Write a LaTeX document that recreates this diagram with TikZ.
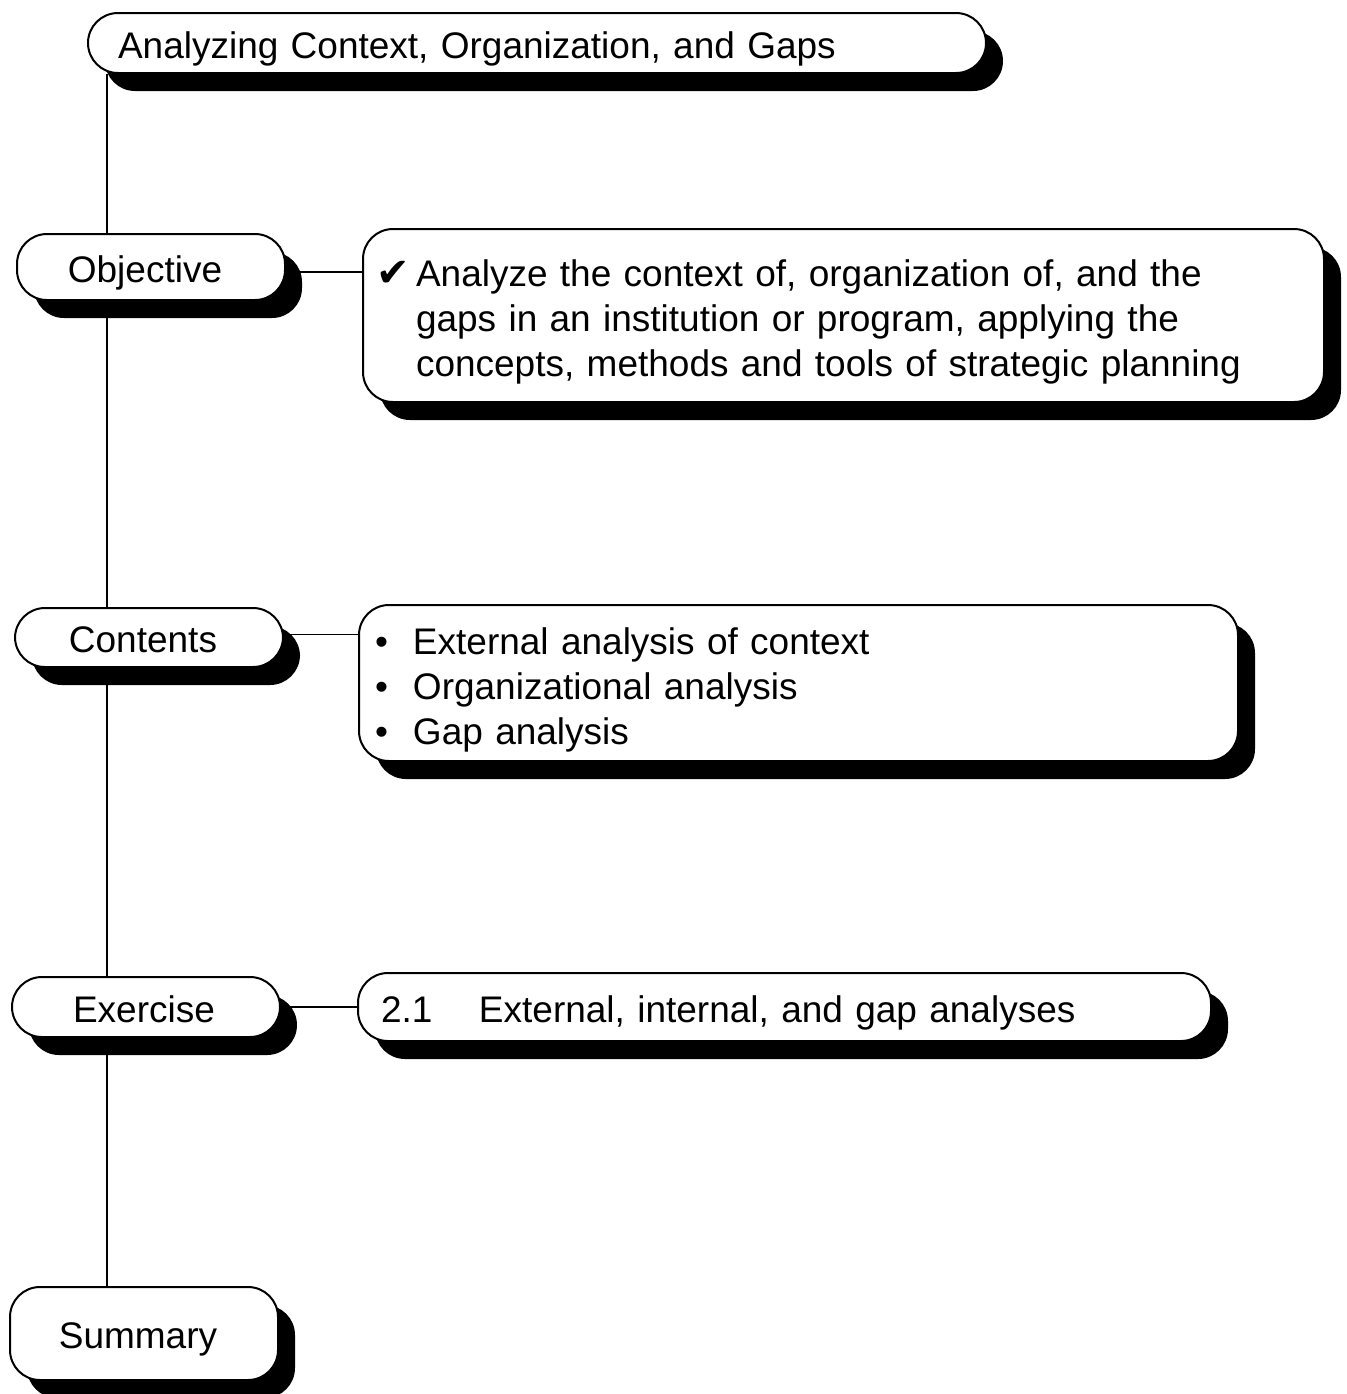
\documentclass[tikz,border=0pt]{standalone}
\usepackage{fontspec}
\setmainfont{Liberation Sans}
\newfontfamily\symfont{DejaVu Sans}
\usetikzlibrary{shadows,backgrounds}

\begin{document}
\begin{tikzpicture}[x=0.5pt,y=-0.5pt,
  box/.style={draw=black, line width=1pt, fill=white, rounded corners=15pt,
    drop shadow={shadow xshift=8.5pt, shadow yshift=-9pt, fill=black, opacity=1},
    font=\fontsize{18.5}{22.5}\selectfont, inner sep=0pt},
  oneline/.style={text height=15.2pt, text depth=0pt},
  tab/.style={box, oneline, minimum width=134pt, align=center},
  panel/.style={box, anchor=north west, align=left},
  link/.style={line width=0.8pt}]

\useasboundingbox (0,0) rectangle (1346,1394);

% heading
\node[panel, oneline, minimum width=449pt, minimum height=30pt, text width=419pt]
  (title) at (87,12) {Analyzing Context, Organization, and Gaps};

% section tabs along the left spine (labels sit a little left of centre)
\node[tab, minimum height=33pt]   (obj)  at (151,267)    {Objective\kern6pt};
\node[tab, minimum height=29.5pt] (cont) at (149,637.5)  {Contents\kern6pt};
\node[tab, minimum height=30pt]   (exe)  at (146,1007)   {Exercise\kern2pt};
\node[tab, minimum height=46.5pt] (summ) at (144,1333.5) {Summary\kern6pt};

% detail panels
\node[panel, minimum width=480.5pt, minimum height=86.5pt, text width=467.5pt]
  (objtxt) at (362,228)
  {\rule{0pt}{20pt}\makebox[20pt][l]{\symfont\fontsize{20}{22.5}\selectfont ✔}Analyze the context of, organization of, and the\\
   \hspace*{20pt}gaps in an institution or program, applying the\\
   \hspace*{20pt}concepts, methods and tools of strategic planning};

\node[panel, minimum width=439.5pt, minimum height=78pt, text width=423.5pt]
  (conttxt) at (358,604)
  {\rule{0pt}{20pt}\makebox[19pt][l]{•}External analysis of context\\
   \makebox[19pt][l]{•}Organizational analysis\\
   \makebox[19pt][l]{•}Gap analysis};

\node[panel, oneline, minimum width=426.5pt, minimum height=34pt, text width=403.5pt]
  (exetxt) at (357,972)
  {\makebox[49pt][l]{2.1}External, internal, and gap analyses};

% connectors behind the boxes
\begin{scope}[on background layer]
  \draw[link] ([xshift=10pt]title.south west) -- ([xshift=10pt]title.south west |- summ.north);
  \draw[link] ([yshift=-2.5pt]obj.east) -- ([yshift=-2.5pt]obj.east -| objtxt.west);
  \draw[link] ([yshift=1.5pt]cont.east) -- ([yshift=1.5pt]cont.east -| conttxt.west);
  \draw[link] (exe.east)  -- (exe.east -| exetxt.west);
\end{scope}
\end{tikzpicture}
\end{document}
